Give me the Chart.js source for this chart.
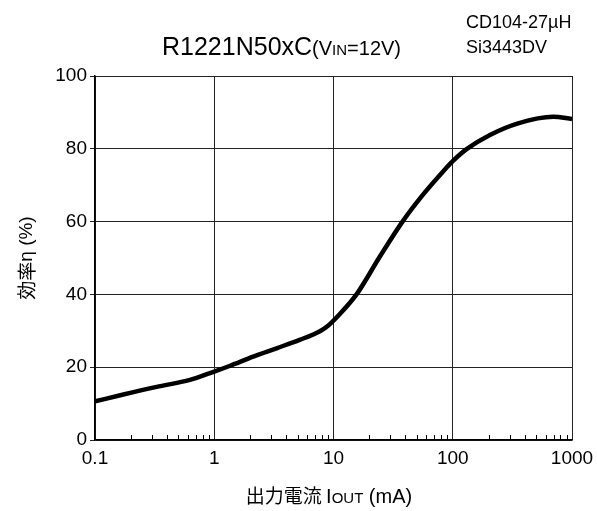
<!DOCTYPE html>
<html>
<head>
<meta charset="UTF-8">
<script src="https://cdn.jsdelivr.net/npm/chart.js"></script>
<style>
  body { margin: 0; background: #fff; }
</style>
</head>
<body>
<canvas id="c" width="597" height="511"></canvas>
<script>
// output current (mA) vs efficiency (%)
const currentMA  = [0.1, 0.173, 0.329, 0.625, 1, 1.36, 2.12, 3.33, 5.2, 7.7, 9, 11, 15.6, 24.5, 37.9, 55, 80.5, 100, 130.6, 205, 353, 695, 1000];
const efficiency = [10.6, 12.5, 14.6, 16.5, 18.8, 20.4, 22.9, 25.2, 27.5, 29.9, 31.4, 34.2, 40, 50.4, 60, 67, 73.3, 76.6, 79.9, 83.8, 87.0, 88.8, 88.2];

const xTickValues = [0.1, 1, 10, 100, 1000];
const xTickLabels = ['0.1', '1', '10', '100', '1000'];
const yTickValues = [0, 20, 40, 60, 80, 100];

const LATIN = '"Liberation Sans", Arial, sans-serif';
const CJK = '"Noto Sans CJK JP", sans-serif';

function drawRun(ctx, parts, x, y) {
  parts.forEach(p => {
    ctx.font = p[1];
    ctx.fillText(p[0], x, y);
    x += ctx.measureText(p[0]).width;
  });
}
function runWidth(ctx, parts) {
  let w = 0;
  parts.forEach(p => { ctx.font = p[1]; w += ctx.measureText(p[0]).width; });
  return w;
}

// minor ticks on bottom axis + all the free text
const extras = {
  id: 'extras',
  afterDraw(chart) {
    const ctx = chart.ctx, x = chart.scales.x, area = chart.chartArea;
    ctx.save();
    ctx.strokeStyle = '#000';
    ctx.lineWidth = 1;
    for (let i = 0; i < xTickValues.length - 1; i++) {
      for (let k = 2; k <= 9; k++) {
        const px = Math.round(x.getPixelForValue(xTickValues[i] * k)) + 0.5;
        ctx.beginPath();
        ctx.moveTo(px, area.bottom);
        ctx.lineTo(px, area.bottom - 5);
        ctx.stroke();
      }
    }

    ctx.fillStyle = '#000';
    ctx.textBaseline = 'alphabetic';
    ctx.textAlign = 'left';

    // title
    drawRun(ctx, [['R1221N50xC', '25px ' + LATIN], ['(V', '20px ' + LATIN], ['IN', '15px ' + LATIN], ['=12V)', '20px ' + LATIN]], 162, 55);

    // parts note
    ctx.font = '18px ' + LATIN;
    ctx.fillText('CD104-27\u00b5H', 466, 28);
    ctx.fillText('Si3443DV', 466, 53);

    // x title
    const xt = [['出力電流 ', '19px ' + CJK], ['I', '20px ' + LATIN], ['OUT', '15px ' + LATIN], [' (mA)', '20px ' + LATIN]];
    drawRun(ctx, xt, 329 - runWidth(ctx, xt) / 2, 503);

    // y title
    ctx.translate(27, 258);
    ctx.rotate(-Math.PI / 2);
    ctx.textBaseline = 'middle';
    const yt = [['効率', '19px ' + CJK], ['η (%)', '19px ' + LATIN]];
    drawRun(ctx, yt, -runWidth(ctx, yt) / 2, 0);
    ctx.restore();
  }
};

new Chart(document.getElementById('c'), {
  type: 'line',
  data: {
    datasets: [{
      data: currentMA.map((v, i) => ({ x: v, y: efficiency[i] })),
      borderColor: '#000',
      borderWidth: 4.5,
      pointRadius: 0,
      cubicInterpolationMode: 'monotone',
      fill: false
    }]
  },
  options: {
    responsive: false,
    animation: false,
    layout: { padding: { top: 76, right: 25, left: 0, bottom: 0 } },
    plugins: { legend: { display: false }, tooltip: { enabled: false } },
    scales: {
      x: {
        type: 'logarithmic',
        min: 0.1, max: 1000,
        afterFit(s) { s.height = 71; s.paddingLeft = 0; s.paddingRight = 0; },
        afterBuildTicks(s) { s.ticks = xTickValues.map(v => ({ value: v, major: true })); },
        ticks: {
          autoSkip: false, maxRotation: 0, padding: 7,
          color: '#000', font: { family: LATIN, size: 19 },
          callback: (v) => xTickLabels[xTickValues.indexOf(v)]
        },
        grid: { color: '#222', lineWidth: 1, drawTicks: false },
        border: { color: '#000', width: 1.5 }
      },
      y: {
        min: 0, max: 100,
        afterFit(s) { s.width = 95; s.paddingTop = 0; s.paddingBottom = 0; },
        afterBuildTicks(s) { s.ticks = yTickValues.map(v => ({ value: v })); },
        ticks: { padding: 3, color: '#000', font: { family: LATIN, size: 19 } },
        grid: { color: '#222', lineWidth: 1, tickLength: 5 },
        border: { color: '#000', width: 1.5 }
      }
    }
  },
  plugins: [extras]
});
</script>
</body>
</html>
